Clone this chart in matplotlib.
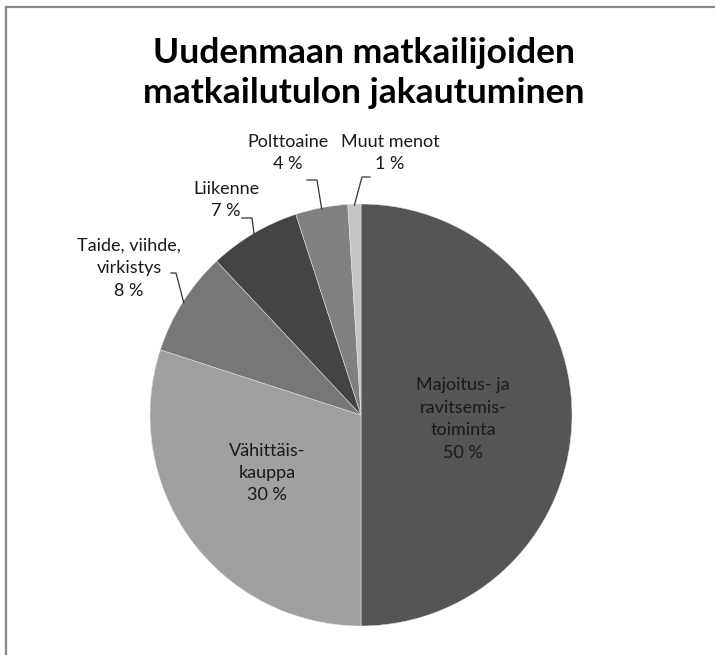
import matplotlib
matplotlib.use("Agg")
import matplotlib.pyplot as plt
from matplotlib.lines import Line2D
import numpy as np

plt.rcParams['font.family'] = ['Lato', 'DejaVu Sans']

title = "Uudenmaan matkailijoiden\nmatkailutulon jakautuminen"
categories = ["Majoitus- ja\nravitsemis-\ntoiminta", "Vähittäis-\nkauppa",
              "Taide, viihde,\nvirkistys", "Liikenne", "Polttoaine", "Muut menot"]
values = [50, 30, 8, 7, 4, 1]
colors = ["#555555", "#a0a0a0", "#777777", "#444444", "#808080", "#c4c4c4"]

W, H = 715, 655
CX, CY, R = 361, 415, 211  # pie centre and radius in pixels

fig = plt.figure(figsize=(W / 100, H / 100), dpi=100)
ax = fig.add_axes([0, 0, 1, 1])

def px(x, y):
    return ((x - CX) / R, (CY - y) / R)

wedges, _ = ax.pie(values, colors=colors, startangle=90, counterclock=False,
                   radius=1, center=(0, 0), frame=True,
                   wedgeprops=dict(edgecolor='#e6e6e6', linewidth=0.35))
ax.set_xlim(-CX / R, (W - CX) / R)
ax.set_ylim((CY - H) / R, CY / R)
ax.set_aspect('auto')
ax.axis('off')

fs = 13
ls = 1.5
# inside labels (text block centres in pixels)
inside_pos = {0: (463, 419), 1: (267, 473)}
for i, (x, y) in inside_pos.items():
    ax.text(*px(x, y), f"{categories[i]}\n{values[i]} %", ha='center', va='center',
            fontsize=fs, color='#1a1a1a', linespacing=ls)

# outside labels: text centre, elbow point, end of horizontal segment
outside = {
    2: ((129, 268), (176, 273), (171, 273)),
    3: ((226, 200), (252, 218), (242, 218)),
    4: ((288, 153), (317, 180), (307, 180)),
    5: ((390, 153), (362, 177), (370, 177)),
}
for i, ((tx, ty), (ex, ey), (hx, hy)) in outside.items():
    ax.text(*px(tx, ty), f"{categories[i]}\n{values[i]} %", ha='center', va='center',
            fontsize=fs, color='#1a1a1a', linespacing=ls)
    w = wedges[i]
    mid = np.deg2rad((w.theta1 + w.theta2) / 2)
    sx, sy = np.cos(mid) * 0.995, np.sin(mid) * 0.995
    ex_, ey_ = px(ex, ey)
    hx_, hy_ = px(hx, hy)
    ax.plot([sx, ex_, hx_], [sy, ey_, hy_], color='#333333', lw=0.9)

fig.text(364 / W, 1 - 73 / H, title, ha='center', va='center', fontsize=25.5,
         fontweight='bold', color='black', linespacing=1.3)

# chart frame (top and left edges visible)
fig.add_artist(Line2D([6 / W, 1], [1 - 7 / H, 1 - 7 / H], color='#878787', lw=1.6))
fig.add_artist(Line2D([6 / W, 6 / W], [0, 1 - 7 / H], color='#878787', lw=1.6))

fig.savefig("out.png", dpi=100, facecolor='white')
